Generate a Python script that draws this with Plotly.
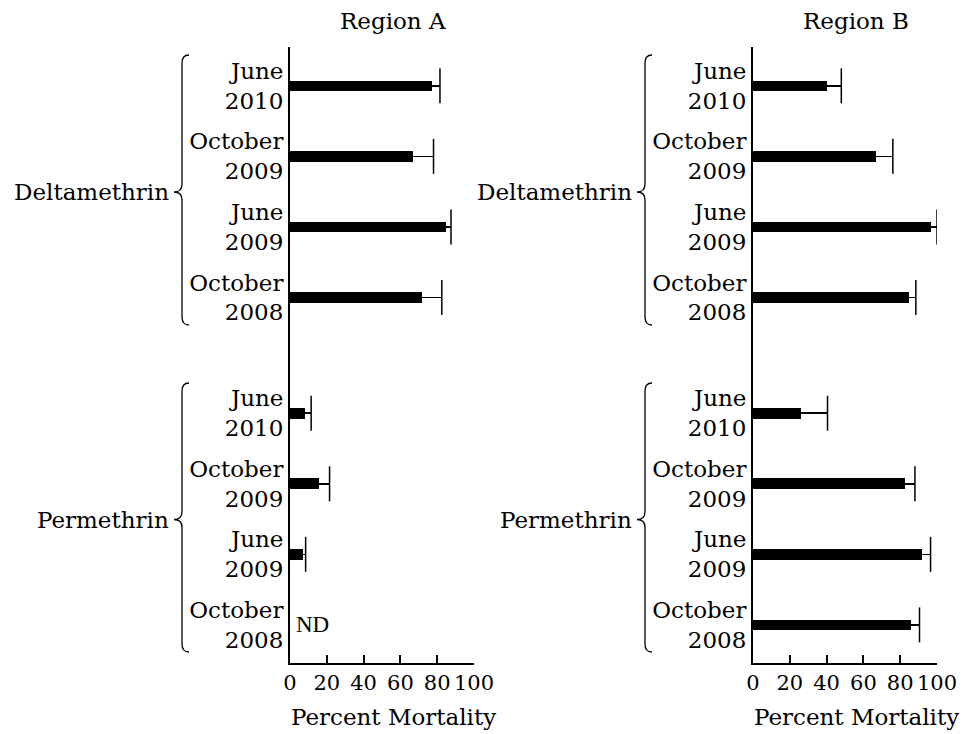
import plotly.graph_objects as go

W, H = 967, 734

periods = ["June<br>2010", "October<br>2009", "June<br>2009", "October<br>2008"]
groups = ["Deltamethrin", "Permethrin"]
regions = ["Region A", "Region B"]
x_title = "Percent Mortality"
x_ticks = [0, 20, 40, 60, 80, 100]

a_delta = [77, 67, 85, 72]
a_delta_err = [4.5, 11, 2.5, 10.5]
a_perm = [8, 16, 7, None]
a_perm_err = [3.5, 5.5, 1.5, None]
nd_label = "ND"

b_delta = [40, 67, 97, 85]
b_delta_err = [8, 9, 3, 3.5]
b_perm = [26, 82.5, 92, 86]
b_perm_err = [14.5, 5.5, 4.5, 4.5]

# ---- layout geometry (screen pixels; page body adds an 8px offset) ----
OX, OY = 8, 8
PLOT_TOP, PLOT_BOT = 47, 663
MT = PLOT_TOP - OY
MB = H - (PLOT_BOT - OY)
ax_left = [290, 753]
ax_w = 184
GAP = 4.64
pos_delta = [i for i in range(4)]
pos_perm = [i + GAP for i in range(4)]
yrange = [8.18, -0.55]

FONT = "DejaVu Serif"
FS = 23

def px(x):
    return (x - OX) / W

def py(y):
    return (PLOT_BOT - y) / (PLOT_BOT - PLOT_TOP)

fig = go.Figure()

data = [
    (a_delta, a_delta_err, a_perm, a_perm_err),
    (b_delta, b_delta_err, b_perm, b_perm_err),
]

for k, (dv, de, pv, pe) in enumerate(data):
    xa = "x" if k == 0 else "x2"
    ya = "y" if k == 0 else "y2"
    vals = dv + pv
    errs = de + pe
    pos = pos_delta + pos_perm
    fig.add_trace(go.Bar(
        x=vals, y=pos, orientation="h", xaxis=xa, yaxis=ya,
        width=0.15, marker=dict(color="black", line=dict(width=0)),
        error_x=dict(type="data", array=[e if e is not None else 0 for e in errs],
                     arrayminus=[0] * len(errs), symmetric=False,
                     color="black", thickness=1.5, width=0),
        showlegend=False,
    ))
    cap_x = [v + e for v, e in zip(vals, errs) if v is not None and e is not None]
    cap_y = [p for v, e, p in zip(vals, errs, pos) if v is not None and e is not None]
    fig.add_trace(go.Scatter(
        x=cap_x, y=cap_y, mode="markers", xaxis=xa, yaxis=ya,
        marker=dict(symbol="line-ns", size=25, color="black",
                    line=dict(color="black", width=1.5)),
        showlegend=False, hoverinfo="skip",
    ))

ax_common = dict(
    range=[0, 100], tickvals=x_ticks, ticks="inside", ticklen=8, tickwidth=1.5,
    tickcolor="black", showline=True, linecolor="black", linewidth=2,
    showgrid=False, zeroline=False, automargin=False,
    tickfont=dict(family=FONT, size=21, color="black"),
)
ay_common = dict(
    range=yrange, tickvals=pos_delta + pos_perm, ticktext=periods + periods,
    ticks="", showline=True, linecolor="black", linewidth=2, showgrid=False,
    zeroline=False, automargin=False,
    tickfont=dict(family=FONT, size=FS, color="black"),
)

fig.update_layout(
    template="none",
    width=W, height=H,
    margin=dict(l=0, r=0, t=MT, b=MB, autoexpand=False),
    paper_bgcolor="white", plot_bgcolor="white",
    xaxis=dict(domain=[px(ax_left[0]), px(ax_left[0] + ax_w)], anchor="y", **ax_common),
    xaxis2=dict(domain=[px(ax_left[1]), px(ax_left[1] + ax_w)], anchor="y2", **ax_common),
    yaxis=dict(anchor="x", domain=[0, 1], **ay_common),
    yaxis2=dict(anchor="x2", domain=[0, 1], **ay_common),
    font=dict(family=FONT, color="black"),
    bargap=0,
)

annotations = []
shapes = []
for k in range(2):
    off = ax_left[k] - ax_left[0]
    annotations.append(dict(text=regions[k], xref="paper", yref="paper",
                            x=px(393 + off), y=py(21), xanchor="center", yanchor="middle",
                            showarrow=False, font=dict(family=FONT, size=FS, color="black")))
    annotations.append(dict(text=x_title, xref="paper", yref="paper",
                            x=px(393 + off), y=py(717), xanchor="center", yanchor="middle",
                            showarrow=False, font=dict(family=FONT, size=FS, color="black")))
    for g, (top, bot) in enumerate([(55, 325), (383, 652)]):
        mid = (top + bot) / 2 + 2
        annotations.append(dict(text=groups[g], xref="paper", yref="paper",
                                x=px(171 + off), y=py(mid), xanchor="right", yanchor="middle",
                                showarrow=False, font=dict(family=FONT, size=FS, color="black")))
        xe, xs, xt = 189 + off, 182 + off, 174 + off
        pts = [
            ("M", [(xe, top)]),
            ("Q", [(xs, top), (xs, top + 8)]),
            ("L", [(xs, mid - 8)]),
            ("Q", [(xs, mid), (xt, mid)]),
            ("Q", [(xs, mid), (xs, mid + 8)]),
            ("L", [(xs, bot - 8)]),
            ("Q", [(xs, bot), (xe, bot)]),
        ]
        path = " ".join(c + " " + " ".join(f"{px(a):.5f},{py(b):.5f}" for a, b in p) for c, p in pts)
        shapes.append(dict(type="path", path=path, xref="paper", yref="paper",
                           line=dict(color="black", width=1.3)))

annotations.append(dict(text=nd_label, xref="x", yref="y", x=2.2, y=pos_perm[3],
                        xanchor="left", yanchor="middle", showarrow=False,
                        font=dict(family="Liberation Serif", size=23, color="black")))

fig.update_layout(annotations=annotations, shapes=shapes)
fig.write_html("out.html")
